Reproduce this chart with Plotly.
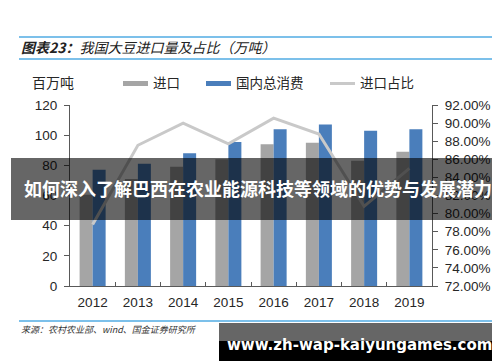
import plotly.graph_objects as go

years = ["2012", "2013", "2014", "2015", "2016", "2017", "2018", "2019"]
imports = [60.5, 71, 79, 84, 94, 95, 83, 89]            # 进口 (百万吨)
consumption = [77, 81, 88, 95.5, 104, 107, 103, 104]    # 国内总消费 (百万吨)
share = [0.788, 0.8755, 0.900, 0.877, 0.9055, 0.888, 0.808, 0.850]  # 进口占比

W, H = 500, 362
L, R, T, B = 62, 424, 97, 278  # plot area in pixels


def px(x):
    return (x - L) / (R - L)


def py(y):
    return (B - y) / (B - T)


GRAY = "#a5a5a5"
BLUE = "#4a7ebb"
LINEC = "#c9c9c9"
TXT = "#262626"
CJK = "Noto Sans CJK SC"
LAT = "Liberation Sans, Arial"

fig = go.Figure()
fig.add_bar(x=years, y=imports, name="进口", marker=dict(color=GRAY, line=dict(width=0)), showlegend=False)
fig.add_bar(x=years, y=consumption, name="国内总消费", marker=dict(color=BLUE, line=dict(width=0)), showlegend=False)
fig.add_scatter(x=years, y=share, name="进口占比", mode="lines", yaxis="y2",
                line=dict(color=LINEC, width=3), showlegend=False)

shapes = []
annotations = []

# title lines
for yy in (29, 51):
    shapes.append(dict(type="line", xref="paper", yref="paper", x0=px(11), x1=px(500), y0=py(yy), y1=py(yy),
                       line=dict(color="#7cc0ea", width=2), layer="above"))
# source line
shapes.append(dict(type="line", xref="paper", yref="paper", x0=px(11), x1=px(500), y0=py(313), y1=py(313),
                   line=dict(color="#7cc0ea", width=2), layer="above"))

annotations.append(dict(text="<i><b>图表23：</b>我国大豆进口量及占比（万吨）</i>", xref="paper", yref="paper",
                        x=px(11), y=py(39), xanchor="left", yanchor="middle", showarrow=False,
                        font=dict(family=CJK, size=14, color="#222")))
annotations.append(dict(text="<i>来源：农村农业部、wind、国金证券研究所</i>", xref="paper", yref="paper",
                        x=px(11), y=py(321), xanchor="left", yanchor="middle", showarrow=False,
                        font=dict(family=CJK, size=9, color="#333")))
annotations.append(dict(text="百万吨", xref="paper", yref="paper",
                        x=px(22), y=py(74), xanchor="left", yanchor="middle", showarrow=False,
                        font=dict(family=CJK, size=14, color=TXT)))

# manual legend
legend_items = [
    ("进口", GRAY, 5, 115, 140, 143),
    ("国内总消费", BLUE, 5, 198, 223, 226),
    ("进口占比", LINEC, 3, 322, 347, 350),
]
for name, col, w, x0, x1, xt in legend_items:
    shapes.append(dict(type="line", xref="paper", yref="paper", x0=px(x0), x1=px(x1), y0=py(75.5), y1=py(75.5),
                       line=dict(color=col, width=w)))
    annotations.append(dict(text=name, xref="paper", yref="paper", x=px(xt), y=py(74),
                            xanchor="left", yanchor="middle", showarrow=False,
                            font=dict(family=CJK, size=13.5, color=TXT)))

# overlay banner
shapes.append(dict(type="rect", xref="paper", yref="paper", x0=px(3), x1=px(497), y0=py(150), y1=py(212),
                   fillcolor="rgba(0,0,0,0.6)", line=dict(width=0), layer="above"))
annotations.append(dict(text="<b>如何深入了解巴西在农业能源科技等领域的优势与发展潜力</b>", xref="paper", yref="paper",
                        x=px(250), y=py(180), xanchor="center", yanchor="middle", showarrow=False,
                        font=dict(family=CJK, size=18, color="white")))

# watermark
shapes.append(dict(type="rect", xref="paper", yref="paper", x0=px(211), x1=px(491), y0=py(315), y1=py(333),
                   fillcolor="#666666", line=dict(width=0), layer="above"))
shapes.append(dict(type="rect", xref="paper", yref="paper", x0=px(211), x1=px(491), y0=py(333), y1=py(353),
                   fillcolor="#000000", line=dict(width=0), layer="above"))
annotations.append(dict(text="<b>www.zh-wap-kaiyungames.com</b>", xref="paper", yref="paper",
                        x=px(351), y=py(337), xanchor="center", yanchor="middle", showarrow=False,
                        font=dict(family="DejaVu Sans", size=15, color="white")))

fig.update_layout(
    width=W, height=H,
    margin=dict(l=L, r=W - R, t=T, b=H - B),
    paper_bgcolor="white", plot_bgcolor="white",
    barmode="group", bargap=0.425, bargroupgap=0,
    showlegend=False,
    shapes=shapes, annotations=annotations,
    xaxis=dict(type="category", showgrid=False, showline=True, linecolor="#595959", linewidth=1,
               ticks="inside", tickson="boundaries", ticklen=4, tickcolor="#595959",
               tickfont=dict(family=LAT, size=13.5, color=TXT), ticklabelstandoff=4),
    yaxis=dict(range=[0, 120], dtick=20, showgrid=False, showline=True, linecolor="#595959", linewidth=1,
               ticks="outside", ticklen=5, tickcolor="#595959", zeroline=False,
               tickfont=dict(family=LAT, size=13.5, color=TXT), ticklabelstandoff=4),
    yaxis2=dict(range=[0.72, 0.92], dtick=0.02, tickformat=".2%", overlaying="y", side="right",
                showgrid=False, showline=True, linecolor="#595959", linewidth=1,
                ticks="outside", ticklen=5, tickcolor="#595959", zeroline=False,
                tickfont=dict(family=LAT, size=13.5, color=TXT), ticklabelstandoff=4),
)

fig.write_html("out.html")
